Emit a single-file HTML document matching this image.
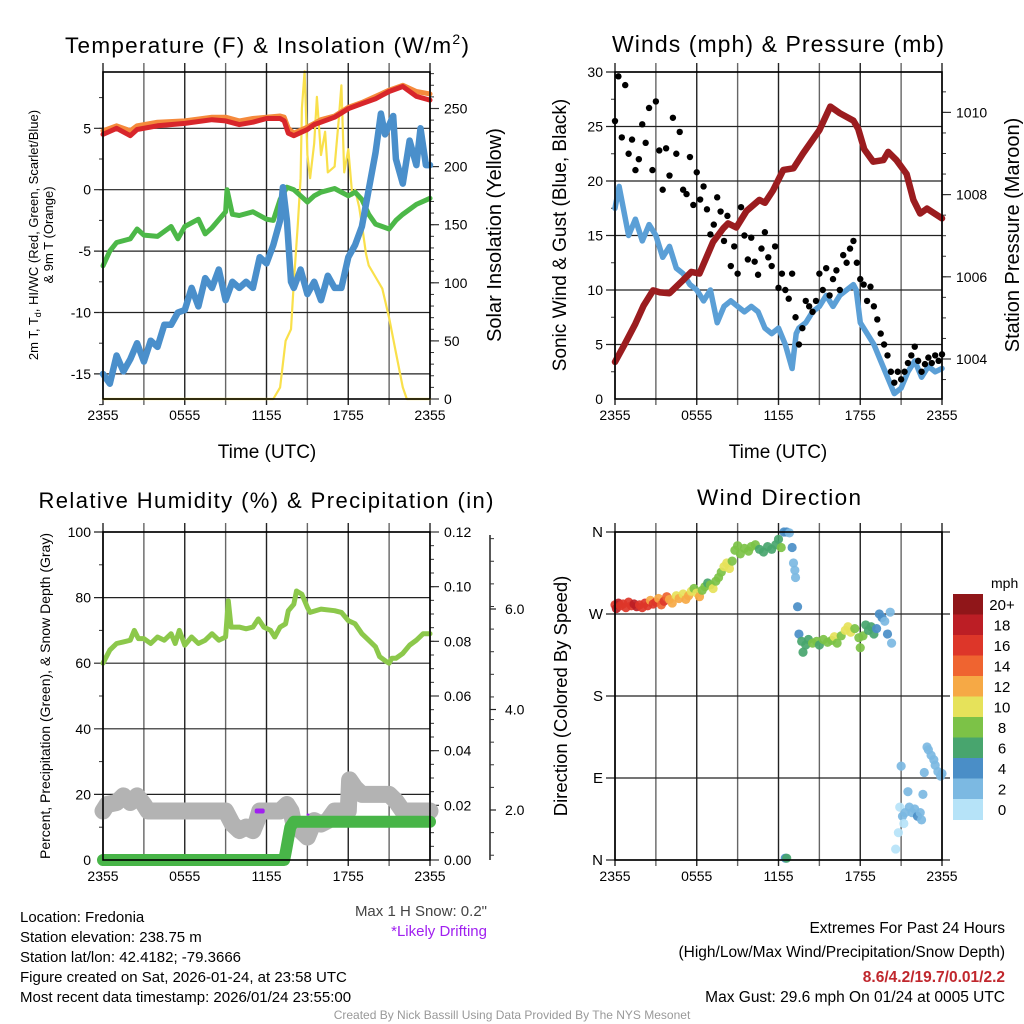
<!DOCTYPE html>
<html><head><meta charset="utf-8">
<style>
html,body{margin:0;padding:0;background:#fff;}
svg{display:block;font-family:"Liberation Sans",Arial,sans-serif;}
</style></head>
<body>
<svg id="chart" width="1024" height="1024" viewBox="0 0 1024 1024" xmlns="http://www.w3.org/2000/svg">
<rect x="0" y="0" width="1024" height="1024" fill="#fff"/>
<text x="267" y="53" font-size="22.5" text-anchor="middle" textLength="404">Temperature (F) &amp; Insolation (W/m<tspan dy="-9" font-size="14">2</tspan><tspan dy="9">)</tspan></text>
<text x="778" y="52" font-size="23" text-anchor="middle" textLength="332">Winds (mph) &amp; Pressure (mb)</text>
<text x="266" y="508" font-size="22" text-anchor="middle" textLength="455">Relative Humidity (%) &amp; Precipitation (in)</text>
<text x="779" y="505" font-size="22.5" text-anchor="middle" textLength="164">Wind Direction</text>

<text x="267" y="458" font-size="19" text-anchor="middle">Time (UTC)</text>
<text x="778" y="458" font-size="19" text-anchor="middle">Time (UTC)</text>

<text transform="translate(38,235) rotate(-90)" font-size="13" text-anchor="middle">2m T, T<tspan dy="3" font-size="9">d</tspan><tspan dy="-3">, HI/WC (Red, Green, Scarlet/Blue)</tspan></text>
<text transform="translate(53,235) rotate(-90)" font-size="13" text-anchor="middle">&amp; 9m T (Orange)</text>
<text transform="translate(501,235) rotate(-90)" font-size="20" text-anchor="middle">Solar Insolation (Yellow)</text>
<text transform="translate(566,235) rotate(-90)" font-size="19" text-anchor="middle">Sonic Wind &amp; Gust (Blue, Black)</text>
<text transform="translate(1019,235) rotate(-90)" font-size="20" text-anchor="middle">Station Pressure (Maroon)</text>
<text transform="translate(50,696) rotate(-90)" font-size="14" text-anchor="middle" textLength="326">Percent, Precipitation (Green), &amp; Snow Depth (Gray)</text>
<text transform="translate(567,696) rotate(-90)" font-size="18.5" text-anchor="middle">Direction (Colored By Speed)</text>

<text x="487" y="916" font-size="15" fill="#444" text-anchor="end">Max 1 H Snow: 0.2"</text>
<text x="487" y="936" font-size="15" fill="#a020f0" text-anchor="end">*Likely Drifting</text>
<text x="20" y="922" font-size="15">Location: Fredonia</text>
<text x="20" y="942" font-size="15">Station elevation: 238.75 m</text>
<text x="20" y="962" font-size="15">Station lat/lon: 42.4182; -79.3666</text>
<text x="20" y="982" font-size="15">Figure created on Sat, 2026-01-24, at 23:58 UTC</text>
<text x="20" y="1002" font-size="15">Most recent data timestamp: 2026/01/24 23:55:00</text>
<text x="1005" y="933" font-size="15.5" text-anchor="end">Extremes For Past 24 Hours</text>
<text x="1005" y="957" font-size="15.5" text-anchor="end">(High/Low/Max Wind/Precipitation/Snow Depth)</text>
<text x="1005" y="982" font-size="15.5" font-weight="bold" fill="#c0272d" text-anchor="end">8.6/4.2/19.7/0.01/2.2</text>
<text x="1005" y="1002" font-size="15.5" text-anchor="end">Max Gust: 29.6 mph On 01/24 at 0005 UTC</text>
<text x="512" y="1019" font-size="12" fill="#999" text-anchor="middle">Created By Nick Bassill Using Data Provided By The NYS Mesonet</text>
</svg>
<script>
// ---------- DATA ----------
const timeLabels = ["2355","0555","1155","1755","2355"];
const tempTicks = [-15,-10,-5,0,5];
const solarTicks = [0,50,100,150,200,250];
const windTicks = [0,5,10,15,20,25,30];
const presTicks = [1004,1006,1008,1010];
const rhTicks = [0,20,40,60,80,100];
const precipTicks = [0,0.02,0.04,0.06,0.08,0.10,0.12];
const snowTicks = [2,4,6];
const dirTicks = [0,90,180,270,360];
const dirLabels = ["N","E","S","W","N"];

const redHours = [0,1,2,2.5,4,6,8,9,10,11,12,13,13.3,13.6,14,15,15.5,16,17,18,19,20,21,22,23,24];
const redTemp = [4.5,5.0,4.4,4.9,5.2,5.4,5.7,5.6,5.3,5.5,5.8,5.8,5.6,4.6,4.4,4.9,5.3,5.5,5.9,6.6,7.0,7.4,8.0,8.4,7.6,7.3];
const orangeTemp = [4.8,5.2,4.8,5.2,5.5,5.6,5.9,5.9,5.6,5.8,5.9,6.0,5.9,5.0,4.6,5.1,5.4,5.7,6.0,6.7,7.1,7.6,8.1,8.5,8.0,7.8];
const greenHours = [0,0.5,1,2,2.5,3,4,5,5.5,6,7,7.5,8,9,9.1,9.5,10,11,12,12.5,13,13.5,14,14.5,15,15.5,16,17,17.5,18,18.5,19,19.5,20,21,21.5,22,23,24];
const greenTemp = [-6.2,-5,-4.3,-4,-3.2,-3.7,-3.8,-3,-4,-3,-2.4,-3.6,-3.1,-1.8,0,-2,-2.1,-1.8,-2.4,-2.5,-0.8,0.2,0,-0.5,-1,-0.5,-0.2,0.1,-0.2,-0.5,-0.2,-0.8,-2,-2.8,-3.2,-2.5,-2,-1.2,-0.7];
const blueHours = [0,0.5,1,1.5,2,2.5,3,3.5,4,4.5,5,5.5,6,6.5,7,7.5,8,8.5,9,9.5,10,10.5,11,11.5,12,12.5,13,13.2,13.5,13.8,14,14.5,15,15.5,16,16.5,17,17.5,18,18.5,19,19.5,20,20.4,20.7,21.3,21.5,22,22.5,23,23.3,23.7,24];
const blueTemp = [-15,-15.8,-13.5,-14.8,-13.8,-12.5,-14,-12.3,-12.8,-11,-11,-10,-9.8,-8,-9.5,-7.2,-8,-6.5,-9,-7.5,-8,-7.5,-8,-5.5,-6,-4.5,-2.5,0.2,-2.5,-7.5,-8,-6.5,-8.5,-7.5,-9,-7,-8,-8,-5.5,-4.5,-3,0,3,6.2,4.5,6,2.5,0.5,4,2,5,2,2];
const solarHours = [0,12.5,13,13.4,13.8,14,14.3,14.5,14.6,14.8,15,15.2,15.5,15.7,16,16.3,16.5,17,17.3,17.5,17.7,18,18.3,18.5,18.8,19,19.3,19.5,20,20.5,21,21.5,22,22.3,24];
const solarVals = [0,0,10,50,60,100,150,190,250,282,210,190,220,260,210,230,195,200,240,270,195,215,175,180,165,150,125,115,105,95,70,40,10,0,0];

const windHours = [0,0.3,1,1.5,2,2.5,3,3.5,4,4.5,5,5.5,6,6.5,7,7.5,8,8.5,9,9.5,10,10.5,11,11.5,12,12.5,13,13.3,13.5,14,14.5,15,15.5,16,16.5,17,17.5,17.7,18,18.5,19,19.5,20,20.5,21,21.5,22,22.5,23,23.5,24];
const windVals = [17.5,19.5,15,16.5,14.5,16,15,13,14,12,11.5,10.5,10,9,10,7,8.5,9,8.5,8,8.5,8,6.5,6,6.5,5,2.8,6,6.5,7,8,8.5,9.5,8.5,9.5,10,10.5,10,7,6,5,3.5,2,0.5,1,2.5,3.5,2,3,2.5,2.8];
const gustStepHours = 0.25;
const gustVals = [25.5,29.6,24,28.8,22.5,23.8,21,22,25.2,23.5,26.7,21,27.3,22.8,19.2,23,20.5,25.8,22.5,24.5,19.2,18.8,22.2,17.8,20.8,18.3,19.5,17.4,15.1,16,18.5,17.2,14.5,16.8,12.2,14,11.5,17.6,15,12.8,14.8,12.6,11.4,13.8,15.3,13,12.2,14,10.2,11.5,10,9.2,11.5,7.5,5,6.5,9,8.5,8,9,11.5,10,12,9.5,11,11.8,10,13.2,12.5,13.8,14.5,12.5,11,10.5,9,10.3,8.5,7.3,6,5,4,2.5,1.5,2.5,1.8,2.5,3.3,4,4.8,3.5,2.5,3.2,3.8,3.3,4,3.5,4.1];
const presHours = [0,0.7,1.5,2.1,2.8,3.3,4,5,5.6,6.2,7.2,7.95,8.3,8.9,9.65,10.6,11,11.6,12.35,13.1,13.8,15,15.8,16.5,17.5,17.85,18.3,18.95,19.7,20.05,20.65,21.4,21.9,22.4,22.9,24];
const presVals = [1003.93,1004.35,1004.86,1005.3,1005.67,1005.62,1005.6,1005.92,1006.12,1006.08,1006.85,1007.18,1007.3,1007.2,1007.6,1007.87,1007.8,1008.1,1008.6,1008.64,1009.0,1009.57,1010.14,1009.98,1009.8,1009.6,1009.1,1008.8,1008.84,1009.04,1008.84,1008.5,1007.87,1007.54,1007.66,1007.42];

const rhHours = [0,0.5,1,1.5,2,2.3,2.6,3,3.5,4,4.5,5,5.3,5.6,6,6.5,7,7.5,8,8.5,9,9.2,9.4,10,10.5,11,11.4,11.8,12.3,12.6,13,13.4,13.6,14,14.2,14.6,15,15.2,16,17,17.5,18,18.5,19,19.5,20,20.3,20.8,21,21.2,21.5,22,22.5,23,23.5,24];
const rhVals = [60,64,66,66.5,67,70,67.5,67.5,66,68,67,69,66,70,65.5,68,66,67,69,67,68,79,71,71,70.5,71,73.5,71,70,68,71,72,76,78,82,81,77,75.5,76.5,76,75.5,73,72,69,67,65,62,60.5,60,61.5,61.5,63,65.5,67,69,69];
const snowHours = [0,0.3,1,1.5,2,2.5,3,3.3,9,9.5,10,10.5,11,11.3,11.5,13,13.5,13.8,14,14.5,15,15.3,15.5,16,16.5,17,18,18.1,18.5,19,21,21.5,22,24];
const snowVals = [1.98,2.11,2.15,2.28,2.15,2.28,2.11,1.98,1.98,1.72,1.59,1.66,1.59,1.79,1.98,1.98,2.11,1.98,1.72,1.59,1.46,1.66,1.79,1.72,1.79,1.98,1.98,2.60,2.44,2.31,2.31,2.18,1.98,1.98];
const precipHours = [0,13.3,13.45,13.6,13.75,14,24];
const precipVals = [0,0,0.004,0.008,0.012,0.014,0.014];
const driftHours = [11.5,15.3];
const driftVals = [1.98,1.88];

const dirHours = [0,0.1,0.25,0.4,0.6,0.8,1.0,1.2,1.4,1.6,1.8,2.0,2.2,2.4,2.6,2.8,3.0,3.2,3.4,3.6,3.8,4.0,4.2,4.5,4.7,5.0,5.2,5.4,5.6,5.8,6.0,6.2,6.4,6.6,6.8,7.0,7.2,7.4,7.6,7.8,8.0,8.2,8.4,8.6,8.8,9.0,9.2,9.5,9.8,10.0,10.3,10.6,10.9,11.2,11.5,11.8,12.0,12.2,12.4,12.6,12.8,12.5,12.6,13.0,13.1,13.2,13.25,13.4,13.5,13.7,13.8,14.0,14.2,14.5,14.8,15.0,15.3,15.6,15.9,16.1,16.3,16.6,16.9,17.1,17.3,17.6,17.9,18.0,18.2,18.4,18.6,18.8,19.0,19.2,19.4,19.6,19.8,20.0,20.2,20.3,20.6,20.8,20.9,21.0,21.1,21.2,21.3,21.5,21.6,21.8,22.0,22.2,22.4,22.5,22.6,22.7,22.9,23.0,23.2,23.4,23.5,23.7,23.9,24];
const dirVals = [280,276,282,279,281,277,283,279,281,278,280,277,282,279,285,281,283,287,280,284,289,286,282,290,287,292,286,290,295,298,293,289,296,300,304,302,298,306,310,316,322,326,320,328,340,345,336,342,339,344,346,341,338,344,341,346,352,343,360,360,359,2,2,343,326,318,310,278,248,240,228,236,242,238,240,236,242,239,241,245,238,246,252,256,250,254,244,233,246,258,252,256,248,254,270,266,262,248,272,238,12,30,58,103,48,40,52,75,58,52,56,48,52,44,72,96,124,121,115,110,104,97,92,95];
const dirSpeeds = [17,19,18,17,16,17,17,16,18,19,17,16,17,16,13,16,16,12,15,16,14,12,13,10,12,11,12,13,10,8,11,12,9,8,7,8,10,8,8,8,10,11,10,9,8,8,9,8,9,9,8,7,7,7,7,6,7,8,4,4,3,4,6,4,3,3,3,4,4,7,6,7,7,8,8,7,9,8,8,10,9,8,10,10,10,8,8,9,8,7,6,7,6,5,4,4,3,4,3,2,1,1,1,2,2,1,3,3,3,3,3,4,2,3,3,3,2,3,3,3,3,3,3,3];
const cbLabels = ["0","2","4","6","8","10","12","14","16","18","20+"];
const cbColors = ["#b6e3f8","#7cb9e2","#4a8ec7","#48a56e","#7cc247","#e6e25a","#f6a945","#ef6430","#dd3629","#bc1e25","#901619"];

// ---------- HELPERS ----------
const svg = document.getElementById('chart');
const NS = 'http://www.w3.org/2000/svg';
function mk(tag, attrs, parent){ const e=document.createElementNS(NS,tag); for(const k in attrs) e.setAttribute(k,attrs[k]); (parent||svg).appendChild(e); return e; }
function grp(name){ const g=mk('g',{}); 
  
  return g; }

const L1=103,R1=430,L2=615,R2=942,T1=72,B1=399,T2=532,B2=860;
const hx1 = h => L1 + h*(R1-L1)/24;
const hx2 = h => L2 + h*(R2-L2)/24;
const yT = v => 189.7 - v*12.28;
const yS = v => B1 - v*1.162;
const yW = v => B1 - v*10.9;
const yP = v => 359 - (v-1004)*41.1;
const yR = v => B2 - v*3.28;
const yPr = v => B2 - v/0.12*(B2-T2);
const ySn = v => 810 - (v-2)*50.25;
const yD = d => B2 - d*(B2-T2)/360;

function linePath(hs, vs, fx, fy){ return hs.map((h,i)=>(i?'L':'M')+fx(h).toFixed(1)+' '+fy(vs[i]).toFixed(1)).join(' '); }

// ---------- PANEL FRAME ----------
function frame(name, L, R, T, B, fx, vLines){
  const g = grp(name);
  // vertical grid + top/bottom ticks every 3h
  for(let h=0; h<=24; h+=3){
    const x=fx(h);
    const l=mk('line',{x1:x,y1:T-9,x2:x,y2:B+6,stroke:(h%6===0)?'#222':'#666','stroke-width':1.4},g);
    
    
  }
  for(let i=0;i<timeLabels.length;i++){
    const t=mk('text',{x:fx(i*6),y:B+21,'font-size':14,'text-anchor':'middle'},g);
    t.textContent=timeLabels[i];
    
    
  }
  return g;
}
function hgrid(g, vals, fy, L, R, ext){
  vals.forEach(v=>{ const y=fy(v);
    const l=mk('line',{x1:L-9,y1:y,x2:R+(ext||0),y2:y,stroke:'#222','stroke-width':1.2},g);
    
    
  });
}
function ticksLeft(g, vals, fy, L, labels, fs){
  vals.forEach((v,i)=>{ const t=mk('text',{x:L-12,y:fy(v)+5,'font-size':fs||14,'text-anchor':'end'},g);
    t.textContent=labels?labels[i]:String(v);
    
    
  });
}
function minorTicks(g, x, from, to, step, fy, len){
  for(let v=from; v<=to+1e-9; v+=step){ const y=fy(v);
    const l=mk('line',{x1:x,y1:y,x2:x+len,y2:y,stroke:'#333','stroke-width':1},g);
    
    
  }
}
function border(g,L,R,T,B){
  const r=mk('rect',{x:L,y:T,width:R-L,height:B-T,fill:'none',stroke:'#000','stroke-width':1.6},g);
  
  
}
function rightLabels(g, vals, fy, x, fmt){
  vals.forEach(v=>{ const y=fy(v);
    const l=mk('line',{x1:x,y1:y,x2:x+9,y2:y,stroke:'#333','stroke-width':1.2},g);
    
    
    const t=mk('text',{x:x+14,y:y+5,'font-size':14},g);
    t.textContent=fmt(v);
    
    
  });
}
function series(g, name, d, color, w, cap){
  const p=mk('path',{d:d,fill:'none',stroke:color,'stroke-width':w,'stroke-linejoin':'round','stroke-linecap':cap||'round'},g);
  
  
  return p;
}

// ---------- PANEL 1: Temperature ----------
const p1 = frame('temperature-panel', L1, R1, T1, B1, hx1);
hgrid(p1, tempTicks, yT, L1, R1);
minorTicks(p1, L1-4, -17.5, 7.5, 2.5, yT, 4);
ticksLeft(p1, tempTicks, yT, L1);
minorTicks(p1, R1, 0, 280, 10, yS, 4);
rightLabels(p1, solarTicks, yS, R1, v=>String(v));
const p1s = grp('temperature-series');
series(p1s,'insolation-line', linePath(solarHours, solarVals, hx1, yS), '#f9e04b', 2.2);
series(p1s,'temperature-9m-line', linePath(redHours, orangeTemp, hx1, yT), '#f58a3c', 5);
series(p1s,'temperature-2m-line', linePath(redHours, redTemp, hx1, yT), '#d8262b', 5);
series(p1s,'dewpoint-line', linePath(greenHours, greenTemp, hx1, yT), '#4cb848', 5);
series(p1s,'wind-chill-line', linePath(blueHours, blueTemp, hx1, yT), '#4a8fcb', 6.5);
border(p1s, L1, R1, T1, B1);

// ---------- PANEL 2: Winds ----------
const p2 = frame('winds-panel', L2, R2, T1, B1, hx2);
hgrid(p2, windTicks.filter(v=>v>0), yW, L2, R2);
minorTicks(p2, L2-4, 2.5, 27.5, 5, yW, 4);
ticksLeft(p2, windTicks, yW, L2);
minorTicks(p2, R2, 1003.5, 1010.5, 0.5, yP, 4);
rightLabels(p2, presTicks, yP, R2, v=>String(v));
const p2s = grp('winds-series');
series(p2s,'sustained-wind-line', linePath(windHours, windVals, hx2, yW), '#5b9fd6', 5.5);
series(p2s,'pressure-line', linePath(presHours, presVals, hx2, yP), '#9b1c1f', 6.5);
gustVals.forEach((v,i)=>{
  const c=mk('circle',{cx:hx2(i*gustStepHours),cy:yW(v),r:3.2,fill:'#000'},p2s);
  
  
});
border(p2s, L2, R2, T1, B1);

// ---------- PANEL 3: Humidity ----------
const p3 = frame('humidity-panel', L1, R1, T2, B2, hx1);
hgrid(p3, rhTicks.filter(v=>v>0), yR, L1, R1);
minorTicks(p3, L1-4, 10, 90, 20, yR, 4);
ticksLeft(p3, rhTicks, yR, L1);
minorTicks(p3, R1, 0, 0.12, 0.005, yPr, 4);
rightLabels(p3, precipTicks, yPr, R1, v=>v.toFixed(2));
const snowAxis = mk('line',{x1:490,y1:535,x2:490,y2:B2,stroke:'#222','stroke-width':1.5},p3);


minorTicks(p3, 490, 1.1, 7.4, 0.45, ySn, 4);
snowTicks.forEach(v=>{
  const l=mk('line',{x1:490,y1:ySn(v),x2:496,y2:ySn(v),stroke:'#222','stroke-width':1.2},p3);
  
  
  const t=mk('text',{x:505,y:ySn(v)+5,'font-size':14},p3);
  t.textContent=v.toFixed(1);
  
  
});
const p3s = grp('humidity-series');
series(p3s,'snow-depth-line', linePath(snowHours, snowVals, hx1, ySn), '#b3b3b3', 17);
series(p3s,'precipitation-line', linePath(precipHours, precipVals, hx1, yPr), '#48b548', 12);
series(p3s,'humidity-line', linePath(rhHours, rhVals, hx1, yR), '#8cc84b', 5);
driftHours.forEach((h,i)=>{
  const r=mk('rect',{x:hx1(h)-5,y:ySn(driftVals[i])-2.5,width:i===0?10:3,height:i===0?5:2,rx:2,fill:'#a020f0'},p3s);
  
  
});
border(p3s, L1, R1, T2, B2);

// ---------- PANEL 4: Wind direction ----------
const p4 = frame('direction-panel', L2, R2, T2, B2, hx2);
hgrid(p4, dirTicks, yD, L2, R2, 8);
ticksLeft(p4, dirTicks, yD, L2, dirLabels, 15);
const p4s = grp('direction-series');
dirHours.forEach((h,i)=>{
  const bin = Math.min(10, Math.floor(dirSpeeds[i]/2));
  const c=mk('circle',{cx:hx2(h),cy:yD(dirVals[i]),r:4.6,fill:cbColors[bin],'fill-opacity':0.92},p4s);
  
  
});
border(p4s, L2, R2, T2, B2);

// colorbar
const cb = grp('speed-colorbar');
const cbTop=594, cbH=20.5;
const mph = mk('text',{x:991,y:588,'font-size':14},cb);
mph.textContent='mph';


for(let k=0;k<cbColors.length;k++){
  const idx = cbColors.length-1-k;
  const r=mk('rect',{x:953,y:cbTop+k*cbH,width:30,height:cbH+0.5,fill:cbColors[idx]},cb);
  
  
  const t=mk('text',{x:1002,y:cbTop+k*cbH+cbH/2+5.5,'font-size':15,'text-anchor':'middle'},cb);
  t.textContent=cbLabels[idx];
  
  
}
</script>
</body></html>
